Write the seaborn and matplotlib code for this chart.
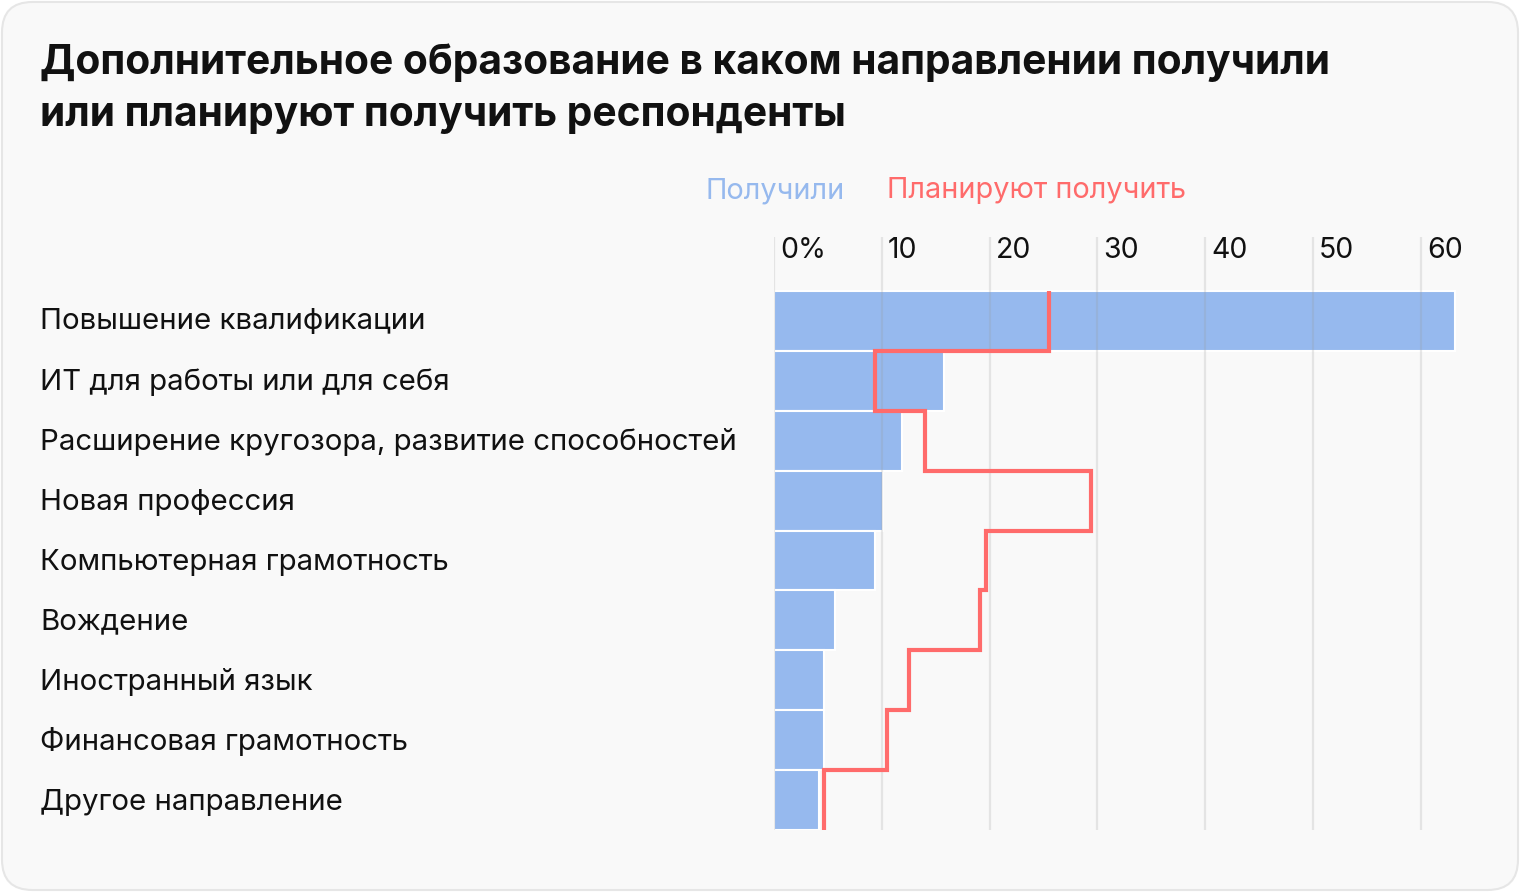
import matplotlib
matplotlib.use("Agg")
import matplotlib.pyplot as plt
import numpy as np
import seaborn as sns
from matplotlib.patches import FancyBboxPatch
from matplotlib.transforms import ScaledTranslation

# данные (%)
categories = [
    "Повышение квалификации",
    "ИТ для работы или для себя",
    "Расширение кругозора, развитие способностей",
    "Новая профессия",
    "Компьютерная грамотность",
    "Вождение",
    "Иностранный язык",
    "Финансовая грамотность",
    "Другое направление",
]
received = [63.2, 15.8, 11.9, 10.1, 9.4, 5.7, 4.6, 4.6, 4.2]
planned = [25.5, 9.4, 14.0, 29.4, 19.7, 19.1, 12.5, 10.5, 4.6]
ticks = [0, 10, 20, 30, 40, 50, 60]
tick_labels = ["0%", "10", "20", "30", "40", "50", "60"]

title = ("Дополнительное образование в каком направлении получили\n"
         "или планируют получить респонденты")

BLUE = "#96B9EE"
RED = "#FF6B6B"
BG = "#F9F9F9"
TEXT = "#111111"

sns.set_theme(style="white")
plt.rcParams["font.family"] = ["Inter", "DejaVu Sans"]

W, H = 1520, 892
fig = plt.figure(figsize=(W / 100, H / 100), dpi=100)
fig.patch.set_facecolor("white")

# карточка с закруглёнными углами
card = FancyBboxPatch((2 / W, 2 / H), (W - 4) / W, (H - 4) / H,
                      boxstyle="round,pad=0,rounding_size=0.02",
                      transform=fig.transFigure, facecolor=BG,
                      edgecolor="#E6E6E6", linewidth=1.5,
                      mutation_aspect=W / H, zorder=-10)
fig.patches.append(card)

# оси: левый край = 0%, верх = начало сетки
x0, x1 = 774, 1464
y_top, y_bot = 237, 830
ax = fig.add_axes([x0 / W, 1 - y_bot / H, (x1 - x0) / W, (y_bot - y_top) / H])
ax.set_facecolor("none")

row_h = 60.0
n = len(categories)
ext = (291 - y_top) / row_h

sns.barplot(x=received, y=categories, orient="h", color=BLUE, width=1.0,
            edgecolor="white", linewidth=1.5, saturation=1, ax=ax, zorder=2)

for t in ticks:
    ax.axvline(t, color="#9A9A9A", alpha=0.22, linewidth=1.6, zorder=3)

ax.stairs(planned, np.arange(n + 1) - 0.5, orientation="horizontal",
          baseline=None, color=RED, linewidth=3, zorder=4)

ax.set_xlim(0, 64)
ax.set_ylim(n - 0.5, -0.5 - ext)
ax.set_xticks([])
ax.set_yticks([])
ax.set_xlabel("")
ax.set_ylabel("")
for s in ax.spines.values():
    s.set_visible(False)

# подписи делений над сеткой
off = ScaledTranslation(6 / 100, 0, fig.dpi_scale_trans)
for t, lab in zip(ticks, tick_labels):
    ax.text(t, -0.5 - 40 / row_h, lab, transform=ax.transData + off,
            ha="left", va="center", fontsize=20.5, color=TEXT)

# подписи категорий
for i, c in enumerate(categories):
    y_px = 292 + row_h * (i + 0.5)
    fig.text(40 / W, 1 - y_px / H, c, ha="left", va="center",
             fontsize=21.2, color=TEXT)

# легенда
fig.text(705 / W, 1 - 191 / H, "Получили", ha="left", va="center",
         fontsize=20.8, color=BLUE)
fig.text(887 / W, 1 - 191 / H, "Планируют получить", ha="left", va="center",
         fontsize=20.8, color=RED)

# заголовок
fig.text(40 / W, 1 - 43 / H, title, ha="left", va="top", fontsize=29.3,
         fontweight="bold", color=TEXT, linespacing=1.47)

fig.savefig("out.png", dpi=100, facecolor="white")
